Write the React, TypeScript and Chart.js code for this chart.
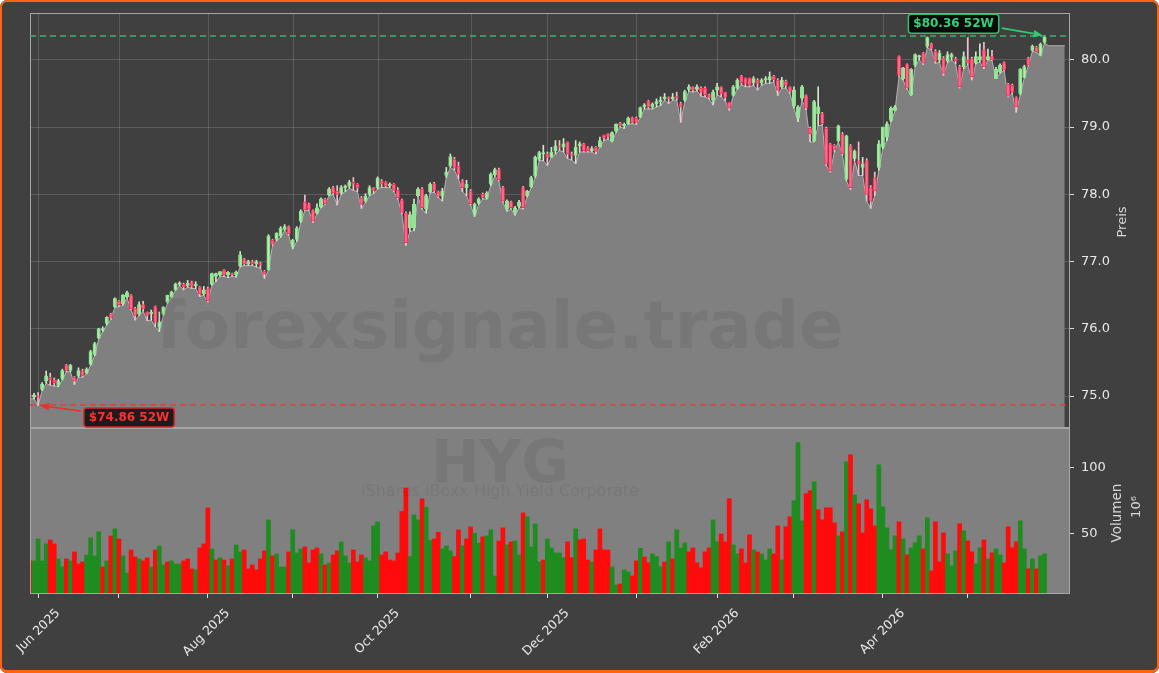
import React, { useEffect, useRef } from "react";
import { Chart, registerables } from "chart.js";

Chart.register(...registerables);

// ---------------- data ----------------
// trading-day index of the first candle (index 0 = 2 Jun 2025)
const FIRST_INDEX = -2;

const OPEN = [
  75.02, 74.99, 75.0, 75.1, 75.22, 75.28, 75.24, 75.16, 75.25, 75.46,
  75.38, 75.28, 75.3, 75.38, 75.34, 75.47, 75.62, 75.86, 75.98, 76.08,
  76.22, 76.33, 76.41, 76.37, 76.48, 76.5, 76.3, 76.22, 76.36, 76.25,
  76.22, 76.33, 76.02, 76.22, 76.4, 76.48, 76.58, 76.66, 76.66, 76.64,
  76.7, 76.64, 76.62, 76.52, 76.6, 76.66, 76.78, 76.8, 76.87, 76.8,
  76.82, 76.8, 76.93, 77.04, 76.96, 77.0, 76.97, 76.98, 76.86, 76.88,
  77.32, 77.33, 77.38, 77.48, 77.52, 77.22, 77.33, 77.6, 77.89, 77.86,
  77.76, 77.72, 77.81, 77.93, 77.99, 78.1, 78.05, 78.02, 78.1, 78.12,
  78.18, 78.15, 77.95, 77.9, 78.0, 78.1, 78.1, 78.2, 78.18, 78.13,
  78.15, 78.06, 77.92, 77.72, 77.5, 77.5, 77.98, 78.08, 77.78, 78.04,
  78.16, 78.04, 77.98, 78.28, 78.42, 78.52, 78.42, 78.2, 78.1, 78.05,
  77.7, 77.87, 78.0, 77.95, 78.15, 78.29, 78.37, 78.1, 77.78, 77.89,
  77.73, 77.82, 78.1, 77.98, 78.11, 78.27, 78.52, 78.6, 78.6, 78.55,
  78.65, 78.72, 78.7, 78.78, 78.6, 78.58, 78.72, 78.75, 78.69, 78.65,
  78.7, 78.7, 78.88, 78.9, 78.8, 78.94, 79.06, 79.02, 79.05, 79.14,
  79.13, 79.15, 79.3, 79.39, 79.3, 79.35, 79.38, 79.42, 79.44, 79.42,
  79.45, 79.35, 79.4, 79.56, 79.6, 79.56, 79.58, 79.58, 79.48, 79.4,
  79.55, 79.6, 79.52, 79.37, 79.47, 79.58, 79.76, 79.72, 79.73, 79.66,
  79.7, 79.66, 79.7, 79.7, 79.76, 79.7, 79.6, 79.68, 79.6, 79.32,
  79.14, 79.43, 79.47, 78.98, 78.8, 79.2, 79.2, 78.98, 78.75, 78.73,
  78.8, 78.9, 78.23, 78.72, 78.53, 78.5, 78.4, 78.5, 78.1, 78.25,
  78.4, 78.7, 78.85, 79.1, 79.25, 80.05, 79.72, 79.93, 79.48, 79.92,
  80.04, 80.1, 80.2, 80.24, 80.13, 80.0, 80.03, 79.98, 80.04, 80.02,
  79.9, 79.9, 80.0, 80.02, 79.95, 80.0, 80.15, 80.0, 80.05, 79.72,
  79.82, 79.96, 79.64, 79.62, 79.44, 79.5, 79.74, 80.03, 80.14, 80.19,
  80.07, 80.26,
];

const HIGH = [
  75.05, 75.04, 75.05, 75.2, 75.37, 75.34, 75.27, 75.25, 75.4, 75.47,
  75.47, 75.29, 75.42, 75.4, 75.42, 75.68, 75.8, 76.01, 76.03, 76.18,
  76.23, 76.46, 76.42, 76.51, 76.56, 76.51, 76.32, 76.4, 76.41, 76.25,
  76.28, 76.34, 76.25, 76.33, 76.5, 76.56, 76.68, 76.7, 76.68, 76.72,
  76.71, 76.7, 76.63, 76.63, 76.62, 76.83, 76.83, 76.85, 76.88, 76.85,
  76.83, 76.86, 77.15, 77.05, 77.02, 77.02, 77.02, 76.99, 76.87, 77.4,
  77.33, 77.43, 77.52, 77.55, 77.53, 77.33, 77.52, 77.77, 77.99, 77.87,
  77.77, 77.86, 77.95, 77.94, 78.1, 78.12, 78.13, 78.13, 78.14, 78.21,
  78.25, 78.16, 77.97, 78.01, 78.13, 78.1, 78.26, 78.22, 78.19, 78.17,
  78.16, 78.1, 77.93, 77.74, 77.74, 77.93, 78.1, 78.1, 78.0, 78.17,
  78.18, 78.05, 78.09, 78.4, 78.6, 78.55, 78.48, 78.22, 78.21, 78.07,
  77.87, 77.95, 78.02, 78.04, 78.32, 78.39, 78.39, 78.12, 77.92, 77.9,
  77.82, 77.91, 78.12, 78.06, 78.27, 78.57, 78.64, 78.73, 78.63, 78.7,
  78.8, 78.8, 78.83, 78.78, 78.63, 78.8, 78.78, 78.76, 78.71, 78.71,
  78.71, 78.85, 78.88, 78.9, 78.93, 79.05, 79.07, 79.06, 79.15, 79.15,
  79.15, 79.3, 79.35, 79.4, 79.36, 79.42, 79.45, 79.5, 79.45, 79.5,
  79.52, 79.37, 79.55, 79.63, 79.6, 79.63, 79.6, 79.6, 79.49, 79.55,
  79.65, 79.6, 79.52, 79.37, 79.62, 79.72, 79.77, 79.73, 79.73, 79.75,
  79.72, 79.72, 79.75, 79.82, 79.77, 79.72, 79.74, 79.7, 79.6, 79.6,
  79.32, 79.62, 79.48, 79.0, 79.4, 79.6, 79.22, 79.0, 78.76, 78.74,
  79.03, 78.92, 78.88, 78.74, 78.66, 78.78, 78.55, 78.53, 78.13, 78.33,
  78.8, 79.0, 79.08, 79.3, 79.32, 80.06, 79.89, 79.94, 79.87, 80.09,
  80.07, 80.11, 80.34, 80.25, 80.15, 80.14, 80.05, 80.12, 80.1, 80.04,
  79.92, 80.12, 80.33, 80.04, 80.12, 80.24, 80.26, 80.16, 80.14, 79.89,
  79.94, 79.97, 79.65, 79.64, 79.45, 79.87, 79.92, 80.04, 80.22, 80.2,
  80.25, 80.36,
];

const LOW = [
  74.96, 74.96, 74.86, 75.08, 75.19, 75.16, 75.15, 75.14, 75.24, 75.36,
  75.36, 75.17, 75.28, 75.28, 75.33, 75.46, 75.6, 75.85, 75.96, 76.06,
  76.14, 76.32, 76.33, 76.35, 76.46, 76.28, 76.13, 76.2, 76.26, 76.12,
  76.13, 76.03, 75.96, 76.2, 76.38, 76.47, 76.57, 76.64, 76.58, 76.62,
  76.6, 76.6, 76.48, 76.5, 76.4, 76.65, 76.7, 76.78, 76.78, 76.76,
  76.78, 76.77, 76.92, 76.94, 76.94, 76.94, 76.92, 76.9, 76.75, 76.87,
  77.24, 77.31, 77.36, 77.46, 77.39, 77.19, 77.3, 77.58, 77.76, 77.76,
  77.58, 77.71, 77.8, 77.85, 77.98, 78.0, 77.84, 78.0, 78.04, 78.09,
  78.06, 78.04, 77.79, 77.88, 77.98, 78.01, 78.08, 78.1, 78.1, 78.1,
  78.04, 77.93, 77.71, 77.24, 77.45, 77.46, 77.96, 77.78, 77.72, 78.02,
  78.03, 77.95, 77.9, 78.25, 78.4, 78.36, 78.23, 78.04, 77.98, 77.84,
  77.67, 77.85, 77.93, 77.93, 78.13, 78.27, 78.2, 77.88, 77.75, 77.78,
  77.69, 77.8, 77.78, 77.96, 78.1, 78.25, 78.5, 78.5, 78.43, 78.55,
  78.6, 78.65, 78.63, 78.53, 78.51, 78.46, 78.63, 78.63, 78.63, 78.63,
  78.6, 78.7, 78.8, 78.82, 78.78, 78.92, 79.0, 78.98, 79.04, 79.05,
  79.04, 79.14, 79.27, 79.27, 79.27, 79.3, 79.32, 79.4, 79.35, 79.4,
  79.4, 79.07, 79.38, 79.53, 79.52, 79.54, 79.46, 79.45, 79.42, 79.33,
  79.48, 79.45, 79.39, 79.25, 79.46, 79.56, 79.63, 79.6, 79.6, 79.62,
  79.55, 79.62, 79.65, 79.65, 79.67, 79.47, 79.58, 79.58, 79.5, 79.28,
  79.08, 79.4, 79.26, 78.78, 78.78, 79.02, 79.03, 78.43, 78.33, 78.63,
  78.78, 78.58, 78.2, 78.07, 78.5, 78.28, 78.28, 77.9, 77.79, 77.98,
  78.36, 78.68, 78.8, 79.08, 79.24, 79.75, 79.7, 79.56, 79.47, 79.9,
  80.0, 79.93, 80.18, 80.15, 79.95, 79.96, 79.77, 79.96, 80.0, 79.94,
  79.58, 79.87, 79.92, 79.7, 79.94, 79.97, 79.87, 80.0, 79.99, 79.72,
  79.8, 79.84, 79.45, 79.5, 79.22, 79.48, 79.73, 79.91, 80.13, 80.11,
  80.06, 80.25,
];

const CLOSE = [
  74.99, 75.0, 74.98, 75.18, 75.3, 75.24, 75.2, 75.23, 75.38, 75.38,
  75.46, 75.22, 75.38, 75.3, 75.4, 75.66, 75.78, 76.0, 76.0, 76.17,
  76.16, 76.45, 76.36, 76.5, 76.54, 76.3, 76.2, 76.36, 76.3, 76.2,
  76.25, 76.1, 76.1, 76.32, 76.5, 76.55, 76.67, 76.68, 76.62, 76.68,
  76.63, 76.66, 76.52, 76.58, 76.42, 76.82, 76.82, 76.85, 76.8, 76.84,
  76.8, 76.84, 77.1, 76.96, 77.0, 76.97, 77.0, 76.95, 76.82, 77.38,
  77.26, 77.42, 77.5, 77.52, 77.41, 77.32, 77.5, 77.75, 77.77, 77.78,
  77.6, 77.8, 77.93, 77.86, 78.08, 78.02, 78.0, 78.1, 78.12, 78.18,
  78.15, 78.1, 77.85, 77.97, 78.1, 78.06, 78.24, 78.15, 78.12, 78.15,
  78.06, 77.95, 77.73, 77.28, 77.7, 77.85, 78.08, 77.8, 77.98, 78.15,
  78.05, 77.97, 78.05, 78.33, 78.56, 78.4, 78.3, 78.1, 78.15, 77.86,
  77.85, 77.93, 77.95, 78.02, 78.3, 78.37, 78.22, 77.9, 77.9, 77.8,
  77.8, 77.88, 77.8, 78.05, 78.25, 78.55, 78.62, 78.62, 78.55, 78.63,
  78.72, 78.7, 78.75, 78.6, 78.58, 78.7, 78.75, 78.65, 78.65, 78.68,
  78.64, 78.8, 78.84, 78.86, 78.92, 79.04, 79.02, 79.04, 79.13, 79.07,
  79.07, 79.29, 79.33, 79.3, 79.34, 79.38, 79.4, 79.45, 79.42, 79.45,
  79.43, 79.3, 79.53, 79.6, 79.55, 79.6, 79.52, 79.48, 79.44, 79.52,
  79.6, 79.5, 79.44, 79.28, 79.6, 79.7, 79.66, 79.64, 79.62, 79.72,
  79.65, 79.7, 79.72, 79.75, 79.7, 79.55, 79.7, 79.62, 79.53, 79.55,
  79.3, 79.6, 79.28, 78.9, 79.38, 79.3, 79.05, 78.45, 78.35, 78.66,
  79.02, 78.6, 78.87, 78.1, 78.64, 78.45, 78.45, 78.0, 77.9, 78.05,
  78.75, 79.0, 79.05, 79.28, 79.3, 79.77, 79.88, 79.58, 79.86, 80.08,
  80.06, 79.95, 80.33, 80.17, 79.98, 80.1, 79.8, 80.08, 80.08, 79.98,
  79.6, 80.05, 79.95, 79.75, 80.05, 80.05, 79.9, 80.05, 80.0, 79.86,
  79.92, 79.85, 79.46, 79.52, 79.3, 79.86, 79.9, 79.92, 80.2, 80.12,
  80.23, 80.34,
];

// volume in millions of shares
const VOLUME = [
  29.3, 29.3, 45.9, 29.3, 42.2, 45.2, 42.2, 30.8, 25.0, 30.8,
  29.3, 36.1, 27.0, 28.5, 33.8, 46.7, 33.1, 51.3, 24.7, 29.3,
  48.2, 53.5, 45.9, 33.1, 20.2, 37.6, 32.3, 30.8, 29.3, 31.6,
  24.7, 37.6, 40.6, 26.3, 28.5, 29.3, 27.0, 27.0, 29.3, 30.8,
  23.2, 22.5, 39.1, 42.2, 69.4, 38.4, 30.0, 31.6, 30.0, 25.5,
  30.8, 41.4, 36.1, 37.6, 23.2, 26.3, 22.5, 30.8, 36.9, 60.3,
  33.1, 34.6, 24.7, 24.7, 36.1, 52.8, 35.3, 38.4, 39.9, 27.8,
  37.6, 39.1, 34.6, 26.3, 27.8, 33.8, 36.9, 43.7, 33.1, 27.8,
  37.6, 28.5, 33.8, 31.6, 29.3, 55.8, 58.8, 33.8, 36.1, 30.0,
  29.3, 35.3, 66.7, 84.3, 32.6, 64.1, 60.3, 76.3, 69.9, 44.7,
  45.9, 51.0, 38.4, 40.6, 36.9, 32.6, 52.8, 40.6, 45.9, 55.0,
  50.2, 42.7, 47.5, 48.2, 52.8, 17.9, 44.4, 54.3, 41.4, 43.7,
  44.4, 33.8, 65.6, 62.6, 39.9, 57.3, 28.5, 30.0, 45.9, 39.1,
  35.3, 35.3, 31.8, 43.7, 31.8, 53.5, 45.2, 45.9, 30.0, 28.5,
  37.6, 53.5, 37.6, 37.6, 24.7, 11.1, 11.9, 22.5, 21.0, 17.9,
  29.3, 38.9, 32.3, 28.0, 34.6, 32.6, 25.0, 28.5, 43.7, 30.8,
  52.8, 39.1, 42.9, 36.1, 39.1, 27.8, 24.2, 36.1, 39.1, 60.3,
  43.7, 49.7, 43.7, 76.3, 41.4, 34.6, 38.4, 27.8, 49.0, 37.6,
  36.1, 34.6, 30.0, 38.4, 34.6, 55.8, 30.1, 55.1, 62.7, 74.8,
  118.7, 59.6, 80.1, 82.4, 89.2, 68.0, 60.4, 69.5, 69.5, 58.1,
  48.3, 51.3, 104.3, 109.6, 79.3, 72.5, 50.5, 75.5, 68.7, 55.8,
  102.0, 70.2, 54.3, 37.7, 48.3, 58.9, 46.0, 33.9, 39.2, 43.0,
  48.3, 38.4, 61.9, 21.8, 58.9, 28.6, 50.5, 34.6, 25.5, 36.9,
  57.4, 52.1, 44.5, 36.2, 27.1, 39.2, 45.2, 30.8, 35.4, 38.4,
  33.9, 27.8, 55.1, 39.2, 43.7, 59.6, 38.4, 23.3, 30.8, 23.3,
  33.1, 34.6,
];

// G = up-volume bar, R = down-volume bar (one letter per trading day)
const VOLUME_DIRECTION = (
  "RGGGGRRGGR GRRRGGGGRG RGRGGRRGRR GRGGRGGGRR RGRRRGRGRG " +
  "RGGRRRRRRG RGGGRGGGRR RRGRGRRGGG RRRGGGGRRR RRRRGGGRGG " +
  "RRGGGRRGRR GGRGGGRRGR GGRGGGGRGG GGGRRGRRRG RRRRGGRGGR " +
  "RGRRGGGRGR GGGRRRRRRG GRRRGGRRRG RGGGRRGRRG GGRRGRRRRR " +
  "GRGRGRRRRR GGGGGRGRGG GRGRRRRGGG RGRRGGRGRG GRRRRGGRGR GG"
).replace(/ /g, "");

// flat tail of the shaded price area after the last session
const AREA_TAIL_INDEX = [250, 251, 252, 253, 254];
const AREA_TAIL_VALUE = [80.21, 80.21, 80.21, 80.21, 80.21];

// month ticks (trading-day index of the first session of each month)
const MONTH_TICK_INDEX = [0, 20, 42, 63, 84, 107, 126, 148, 168, 187, 209, 230];
const MONTH_TICK_LABELS = [
  "Jun 2025", "", "Aug 2025", "", "Oct 2025", "", "Dec 2025", "", "Feb 2026", "", "Apr 2026", "",
];

const PRICE_TICKS = [75, 76, 77, 78, 79, 80];
const VOLUME_TICKS = [50, 100];
const PRICE_RANGE = [74.525, 80.697];
const VOLUME_RANGE = [4.3, 129.8];
const X_RANGE = [-2, 255.3];

const HIGH_52W = 80.36;
const LOW_52W = 74.86;
const HIGH_52W_INDEX = 249;
const LOW_52W_INDEX = 0;

const TICKER = "HYG";
const FUND_NAME = "iShares iBoxx High Yield Corporate";
const WATERMARK = "forexsignale.trade";

// ---------------- drawing helpers ----------------
const FONT = '"DejaVu Sans", "Liberation Sans", sans-serif';

function roundRect(ctx: CanvasRenderingContext2D, x: number, y: number, w: number, h: number, r: number) {
  ctx.beginPath();
  ctx.moveTo(x + r, y);
  ctx.lineTo(x + w - r, y);
  ctx.quadraticCurveTo(x + w, y, x + w, y + r);
  ctx.lineTo(x + w, y + h - r);
  ctx.quadraticCurveTo(x + w, y + h, x + w - r, y + h);
  ctx.lineTo(x + r, y + h);
  ctx.quadraticCurveTo(x, y + h, x, y + h - r);
  ctx.lineTo(x, y + r);
  ctx.quadraticCurveTo(x, y, x + r, y);
  ctx.closePath();
}

function arrow(ctx: CanvasRenderingContext2D, x1: number, y1: number, x2: number, y2: number, color: string) {
  const a = Math.atan2(y2 - y1, x2 - x1);
  const hl = 9;
  const hw = 3.8;
  const bx = x2 - hl * Math.cos(a);
  const by = y2 - hl * Math.sin(a);
  ctx.strokeStyle = color;
  ctx.fillStyle = color;
  ctx.lineWidth = 1.6;
  ctx.beginPath();
  ctx.moveTo(x1, y1);
  ctx.lineTo(bx, by);
  ctx.stroke();
  ctx.beginPath();
  ctx.moveTo(x2, y2);
  ctx.lineTo(bx - hw * Math.sin(a), by + hw * Math.cos(a));
  ctx.lineTo(bx + hw * Math.sin(a), by - hw * Math.cos(a));
  ctx.closePath();
  ctx.fill();
}

function label52w(
  ctx: CanvasRenderingContext2D,
  text: string,
  cx: number,
  cy: number,
  textColor: string,
  borderColor: string,
  fill: string
) {
  ctx.font = `bold 12px ${FONT}`;
  const w = ctx.measureText(text).width + 10;
  const h = 19;
  roundRect(ctx, cx - w / 2, cy - h / 2, w, h, 3);
  ctx.fillStyle = fill;
  ctx.fill();
  ctx.lineWidth = 1.5;
  ctx.strokeStyle = borderColor;
  ctx.stroke();
  ctx.fillStyle = textColor;
  ctx.textAlign = "center";
  ctx.textBaseline = "middle";
  ctx.fillText(text, cx, cy + 0.5);
  return { left: cx - w / 2, right: cx + w / 2, top: cy - h / 2, bottom: cy + h / 2 };
}

const panelPlugin = {
  id: "panels",
  beforeDraw(chart: any) {
    const { ctx, chartArea, scales } = chart;
    const yv = scales.yv;
    ctx.save();
    ctx.fillStyle = "#808080";
    ctx.fillRect(chartArea.left, yv.top, chartArea.right - chartArea.left, yv.bottom - yv.top);
    ctx.restore();
  },
  beforeDatasetsDraw(chart: any) {
    const { ctx, scales } = chart;
    const x = scales.x;
    const y = scales.y;
    ctx.save();
    ctx.strokeStyle = "rgba(255,255,255,0.14)";
    ctx.lineWidth = 1;
    for (const t of x.ticks) {
      const px = Math.round(x.getPixelForValue(t.value)) + 0.5;
      ctx.beginPath();
      ctx.moveTo(px, y.top);
      ctx.lineTo(px, y.bottom);
      ctx.stroke();
    }
    ctx.restore();
  },
  afterDatasetsDraw(chart: any) {
    const { ctx, chartArea, scales } = chart;
    const x = scales.x;
    const y = scales.y;
    const yv = scales.yv;
    ctx.save();
    // watermarks
    ctx.fillStyle = "rgba(0,0,0,0.065)";
    ctx.textAlign = "center";
    ctx.textBaseline = "alphabetic";
    ctx.font = `bold 66px ${FONT}`;
    ctx.fillText(WATERMARK, chartArea.left + 470, y.top + 335);
    ctx.fillStyle = "rgba(0,0,0,0.07)";
    ctx.font = `bold 58px ${FONT}`;
    ctx.fillText(TICKER, chartArea.left + 470, yv.top + 54);
    ctx.font = `16px ${FONT}`;
    ctx.fillText(FUND_NAME, chartArea.left + 470, yv.top + 68);

    // panel frames
    ctx.strokeStyle = "#a6a6a6";
    ctx.lineWidth = 1;
    const L = Math.round(chartArea.left) + 0.5;
    const R = Math.round(chartArea.right) - 0.5;
    ctx.strokeRect(L, Math.round(y.top) + 0.5, R - L, Math.round(y.bottom) - Math.round(y.top) - 1);
    ctx.strokeRect(L, Math.round(yv.top) + 0.5, R - L, Math.round(yv.bottom) - Math.round(yv.top) - 1);

    // 52 week lines
    ctx.setLineDash([6, 4]);
    ctx.lineWidth = 1.6;
    const yh = y.getPixelForValue(HIGH_52W);
    ctx.strokeStyle = "rgba(60,179,113,0.95)";
    ctx.beginPath();
    ctx.moveTo(chartArea.left, Math.round(yh));
    ctx.lineTo(chartArea.right, Math.round(yh));
    ctx.stroke();
    const yl = y.getPixelForValue(LOW_52W);
    ctx.strokeStyle = "rgba(232,58,58,0.9)";
    ctx.beginPath();
    ctx.moveTo(chartArea.left, Math.round(yl));
    ctx.lineTo(chartArea.right, Math.round(yl));
    ctx.stroke();
    ctx.setLineDash([]);

    // 52 week labels + arrows
    const hx = x.getPixelForValue(HIGH_52W_INDEX);
    const hb = label52w(ctx, `$${HIGH_52W.toFixed(2)} 52W`, hx - 91, yh - 12, "#33d17a", "#2fbf6a", "rgba(5,5,5,0.92)");
    arrow(ctx, hb.right + 3, hb.top + 14, hx - 2, yh - 0.5, "#2ecc71");
    const lx = x.getPixelForValue(LOW_52W_INDEX);
    const lb = label52w(ctx, `$${LOW_52W.toFixed(2)} 52W`, lx + 91, yl + 12, "#ff3030", "#d42a2a", "rgba(20,20,20,0.92)");
    arrow(ctx, lb.left - 3, lb.top + 3, lx + 2, yl, "#ee2d2d");

    // axis titles
    ctx.fillStyle = "#d9d9d9";
    ctx.textAlign = "center";
    ctx.textBaseline = "middle";
    const drawV = (t: string, cx: number, cy: number, size: number) => {
      ctx.save();
      ctx.font = `${size}px ${FONT}`;
      ctx.translate(cx, cy);
      ctx.rotate(-Math.PI / 2);
      ctx.fillText(t, 0, 0);
      ctx.restore();
    };
    drawV("Preis", chartArea.right + 53, (y.top + y.bottom) / 2 + 1.5, 13);
    drawV("Volumen", chartArea.right + 47.5, (yv.top + yv.bottom) / 2 + 2, 13.5);
    drawV("10\u2076", chartArea.right + 67, (yv.top + yv.bottom) / 2 - 4, 13);
    ctx.restore();
  },
};

export default function App() {
  const ref = useRef<HTMLCanvasElement | null>(null);

  useEffect(() => {
    const canvas = ref.current;
    if (!canvas) return;
    Chart.defaults.font.family = FONT;

    const xOf = (i: number) => FIRST_INDEX + i;
    const up = CLOSE.map((c, i) => c >= OPEN[i]);

    const areaData = LOW.map((v, i) => ({ x: xOf(i), y: v })).concat(
      AREA_TAIL_INDEX.map((xx, k) => ({ x: xx, y: AREA_TAIL_VALUE[k] }))
    );
    const wickData = LOW.map((v, i) => ({ x: xOf(i), y: [v, HIGH[i]] }));
    const bodyData = OPEN.map((o, i) => ({ x: xOf(i), y: [o, CLOSE[i]] }));
    const volData = VOLUME.map((v, i) => ({ x: xOf(i), y: v }));

    const chart = new Chart(canvas, {
      type: "bar",
      data: {
        datasets: [
          {
            type: "line",
            data: areaData as any,
            yAxisID: "y",
            borderColor: "#b3b3b3",
            borderWidth: 1,
            backgroundColor: "#808080",
            fill: "start",
            pointRadius: 0,
            tension: 0,
            order: 5,
          } as any,
          {
            type: "bar",
            data: volData as any,
            yAxisID: "yv",
            backgroundColor: VOLUME.map((_, i) => (VOLUME_DIRECTION[i] === "G" ? "#1f8c1f" : "#ff0b0b")),
            barPercentage: 1,
            categoryPercentage: 1,
            grouped: false,
            clip: 0,
            order: 4,
          } as any,
          {
            type: "bar",
            data: wickData as any,
            yAxisID: "y",
            backgroundColor: up.map((u) => (u ? "#cfe9cf" : "#f2bfcb")),
            barThickness: 1,
            grouped: false,
            order: 3,
          } as any,
          {
            type: "bar",
            data: bodyData as any,
            yAxisID: "y",
            backgroundColor: up.map((u) => (u ? "rgba(0,0,0,0)" : "#f2708c")),
            borderColor: up.map((u) => (u ? "#8ee68e" : "#ff2d5a")),
            borderWidth: 1,
            borderSkipped: false,
            barThickness: 3.4,
            minBarLength: 1.5,
            grouped: false,
            order: 2,
          } as any,
        ],
      },
      options: {
        responsive: false,
        animation: false,
        devicePixelRatio: 1,
        events: [],
        layout: { padding: { left: 30, top: 13, right: 0, bottom: 0 } },
        plugins: { legend: { display: false }, tooltip: { enabled: false } },
        scales: {
          x: {
            type: "linear",
            position: "bottom",
            min: X_RANGE[0],
            max: X_RANGE[1],
            offset: false,
            afterBuildTicks: (s: any) => {
              s.ticks = MONTH_TICK_INDEX.map((v) => ({ value: v }));
            },
            afterFit: (s: any) => {
              s.height = 79;
              s.paddingLeft = 0;
              s.paddingRight = 0;
            },
            ticks: {
              autoSkip: false,
              minRotation: 45,
              maxRotation: 45,
              labelOffset: 20,
              padding: 8,
              color: "#e8e8e8",
              font: { size: 12.5, family: FONT },
              callback: (_v: any, i: number) => MONTH_TICK_LABELS[i] ?? "",
            },
            grid: {
              offset: false,
              drawOnChartArea: false,
              color: "rgba(0,0,0,0)",
              tickColor: "#dddddd",
              tickLength: 4,
            },
            border: { display: false },
          },
          y: {
            type: "linear",
            position: "right",
            stack: "panels",
            stackWeight: 415,
            min: PRICE_RANGE[0],
            max: PRICE_RANGE[1],
            afterBuildTicks: (s: any) => {
              s.ticks = PRICE_TICKS.map((v) => ({ value: v }));
            },
            afterFit: (s: any) => {
              s.width = 89;
              s.paddingTop = 0;
              s.paddingBottom = 0;
            },
            ticks: {
              color: "#e8e8e8",
              padding: 7,
              font: { size: 13, family: FONT },
              callback: (v: any) => Number(v).toFixed(1),
            },
            grid: {
              color: "rgba(255,255,255,0.14)",
              tickColor: "#dddddd",
              tickLength: 4,
            },
            border: { display: false },
          },
          yv: {
            type: "linear",
            position: "right",
            stack: "panels",
            stackWeight: 166,
            min: VOLUME_RANGE[0],
            max: VOLUME_RANGE[1],
            afterBuildTicks: (s: any) => {
              s.ticks = VOLUME_TICKS.map((v) => ({ value: v }));
            },
            afterFit: (s: any) => {
              s.width = 89;
              s.paddingTop = 0;
              s.paddingBottom = 0;
            },
            ticks: {
              color: "#e8e8e8",
              padding: 7,
              font: { size: 13, family: FONT },
              callback: (v: any) => String(Math.round(Number(v))),
            },
            grid: {
              drawOnChartArea: false,
              color: "rgba(0,0,0,0)",
              tickColor: "#dddddd",
              tickLength: 4,
            },
            border: { display: false },
          },
        },
      } as any,
      plugins: [panelPlugin as any],
    });

    return () => chart.destroy();
  }, []);

  return (
    <div
      style={{
        position: "fixed",
        left: 0,
        top: 0,
        width: 1159,
        height: 673,
        background: "#404040",
        borderRadius: 7,
        overflow: "hidden",
      }}
    >
      <canvas
        ref={ref}
        width={1159}
        height={673}
        style={{ position: "absolute", left: 0, top: 0, width: 1159, height: 673 }}
      />
      <div
        style={{
          position: "absolute",
          inset: 0,
          border: "2px solid #ff6410",
          borderBottomWidth: 3,
          borderRadius: 7,
          boxSizing: "border-box",
          pointerEvents: "none",
        }}
      />
    </div>
  );
}
